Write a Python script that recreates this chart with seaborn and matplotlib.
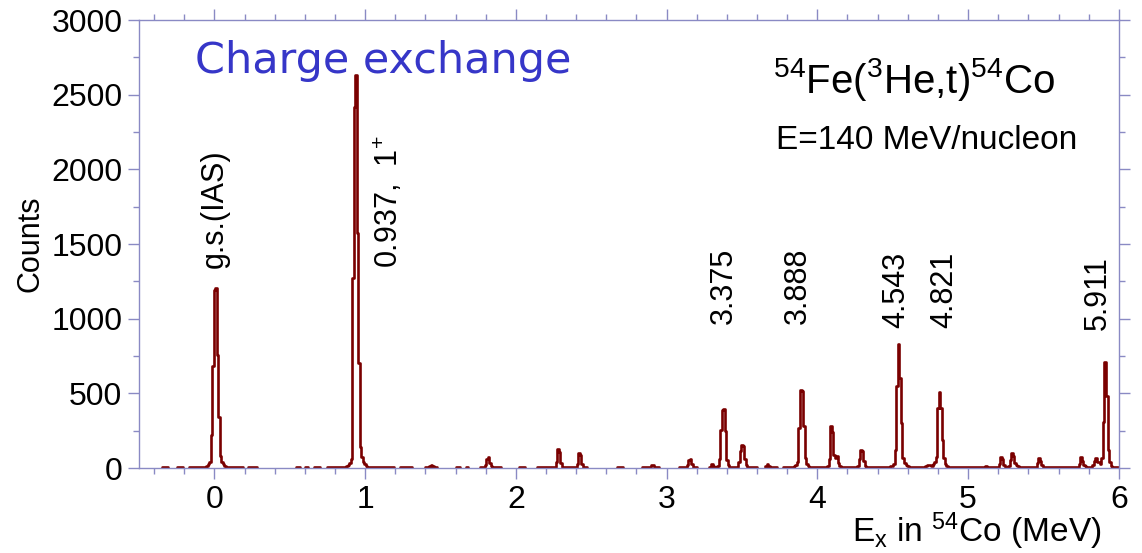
import numpy as np
import pandas as pd
import matplotlib
matplotlib.use("Agg")
import matplotlib.pyplot as plt
from matplotlib.ticker import MultipleLocator
import seaborn as sns

sns.set_theme(style="white")
plt.rcParams["font.family"] = ["Liberation Sans", "DejaVu Sans"]
plt.rcParams["mathtext.fontset"] = "custom"
plt.rcParams["mathtext.rm"] = "Liberation Sans"
plt.rcParams["mathtext.it"] = "Liberation Sans:italic"
plt.rcParams["mathtext.bf"] = "Liberation Sans:bold"

# ---------------- data ----------------
BIN = 0.01
E_MIN, E_MAX = -0.40, 6.00

# energy ranges (MeV) where a low background is recorded (elsewhere: empty bins)
bg_start = [-0.35, -0.25, -0.17, 0.09, 0.22, 0.54, 0.60, 0.66, 0.75, 1.03, 1.23,
            1.40, 1.60, 1.67, 1.76, 2.02, 2.14, 2.67, 2.84, 3.08, 3.28, 3.65, 3.77]
bg_end = [-0.31, -0.21, -0.06, 0.19, 0.28, 0.57, 0.62, 0.70, 0.87, 1.19, 1.31,
          1.48, 1.63, 1.68, 1.90, 2.06, 2.47, 2.71, 2.95, 3.20, 3.60, 3.73, 6.00]
bg_level = 6

# peaks: first bin energy and counts per 0.01 MeV bin
peak_start = [-0.05, 0.88, 1.42, 1.79, 2.26, 2.40, 2.89, 3.13, 3.29, 3.33, 3.47,
              3.66, 3.85, 4.07, 4.27, 4.49, 4.72, 4.77, 5.11, 5.20, 5.27, 5.45,
              5.73, 5.83, 5.87]
peak_counts = [
    [15, 25, 40, 220, 680, 1190, 1205, 760, 340, 80, 40, 25, 15, 10],
    [12, 20, 35, 60, 1270, 2420, 2630, 1575, 700, 140, 75, 40, 25, 15, 10],
    [8, 15, 23, 15, 8],
    [8, 20, 60, 72, 35, 12, 8],
    [10, 40, 125, 110, 35, 10],
    [10, 30, 103, 90, 30, 10],
    [8, 22, 18, 8],
    [8, 20, 55, 58, 25, 10],
    [10, 25, 12],
    [10, 15, 60, 255, 390, 395, 250, 55, 20, 10],
    [10, 40, 115, 155, 150, 60, 20, 10],
    [12, 27, 15],
    [12, 20, 40, 270, 520, 515, 280, 70, 25, 15],
    [15, 60, 280, 240, 90, 70, 80, 35, 15, 10],
    [12, 60, 120, 115, 50, 15],
    [12, 15, 25, 120, 550, 830, 600, 300, 70, 35, 20, 12],
    [12, 18, 22, 18, 15],
    [25, 40, 75, 400, 510, 400, 190, 70, 30, 15],
    [10, 15, 10],
    [10, 30, 76, 60, 20, 10],
    [15, 55, 100, 80, 35, 20, 15],
    [10, 35, 67, 50, 20, 10],
    [10, 30, 76, 50, 20, 12],
    [20, 45, 65, 40],
    [40, 30, 70, 310, 710, 480, 120, 40, 15, 10, 8, 6, 6, 6],
]

label_text = ["g.s.(IAS)", "0.937,  1$^{+}$", "3.375", "3.888", "4.543", "4.821", "5.911"]
label_x = [0.005, 1.155, 3.379, 3.870, 4.526, 4.844, 5.859]
label_y = [1340, 1340, 965, 965, 940, 940, 925]

x_ticks = [0, 1, 2, 3, 4, 5, 6]
y_ticks = [0, 500, 1000, 1500, 2000, 2500, 3000]

# ---------------- build the binned spectrum ----------------
n = int(round((E_MAX - E_MIN) / BIN)) + 1
energy = np.round(E_MIN + BIN * np.arange(n), 2)
counts = np.full(n, np.nan)


def idx(e):
    return int(round((e - E_MIN) / BIN))


for s, e in zip(bg_start, bg_end):
    counts[idx(s):idx(e) + 1] = bg_level
for s, vals in zip(peak_start, peak_counts):
    i = idx(s)
    counts[i:i + len(vals)] = vals

seg = np.cumsum(np.isnan(counts))
df = pd.DataFrame({"E": energy, "Counts": counts, "seg": seg}).dropna()

# ---------------- plot ----------------
SPINE = "#8a8ac4"
LINE = "#7a0000"

fig = plt.figure(figsize=(11.42, 5.53), dpi=100)
ax = fig.add_axes([0.1217, 0.1537, 0.858, 0.8101])

sns.lineplot(data=df, x="E", y="Counts", units="seg", estimator=None,
             drawstyle="steps-mid", color=LINE, linewidth=1.9, ax=ax,
             legend=False, sort=True)

ax.set_xlim(-0.5, 6.0)
ax.set_ylim(0, 3000)
ax.set_xticks(x_ticks)
ax.set_xticklabels([str(t) for t in x_ticks])
ax.set_yticks(y_ticks)
ax.set_yticklabels([str(t) for t in y_ticks])
ax.xaxis.set_minor_locator(MultipleLocator(0.2))
ax.yaxis.set_minor_locator(MultipleLocator(250))

for sp in ax.spines.values():
    sp.set_visible(True)
    sp.set_color(SPINE)
    sp.set_linewidth(1.0)

ax.tick_params(which="both", direction="out", top=True, right=True,
               bottom=True, left=True, color=SPINE, width=1.0,
               labelsize=23, labelcolor="black")
ax.tick_params(which="major", length=8, pad=4)
ax.tick_params(which="minor", length=4)

ax.set_ylabel("Counts", fontsize=22, color="black", labelpad=4)
ax.set_xlabel("")
ax.text(0.983, -0.165, r"E$_{\mathrm{x}}$ in $^{54}$Co (MeV)", transform=ax.transAxes,
        ha="right", va="baseline", fontsize=24, color="black")

ax.text(0.057, 0.882, "Charge exchange", transform=ax.transAxes,
        ha="left", va="baseline", fontsize=31, color="#3636c8",
        family=["DejaVu Sans"])
ax.text(0.647, 0.836, r"$^{54}$Fe($^{3}$He,t)$^{54}$Co", transform=ax.transAxes,
        ha="left", va="baseline", fontsize=29, color="black")
ax.text(0.650, 0.712, "E=140 MeV/nucleon", transform=ax.transAxes,
        ha="left", va="baseline", fontsize=24, color="black")

for t, x, y in zip(label_text, label_x, label_y):
    ax.text(x, y, t, rotation=90, ha="center", va="bottom", fontsize=22,
            color="black")

fig.savefig("out.png", dpi=100)
